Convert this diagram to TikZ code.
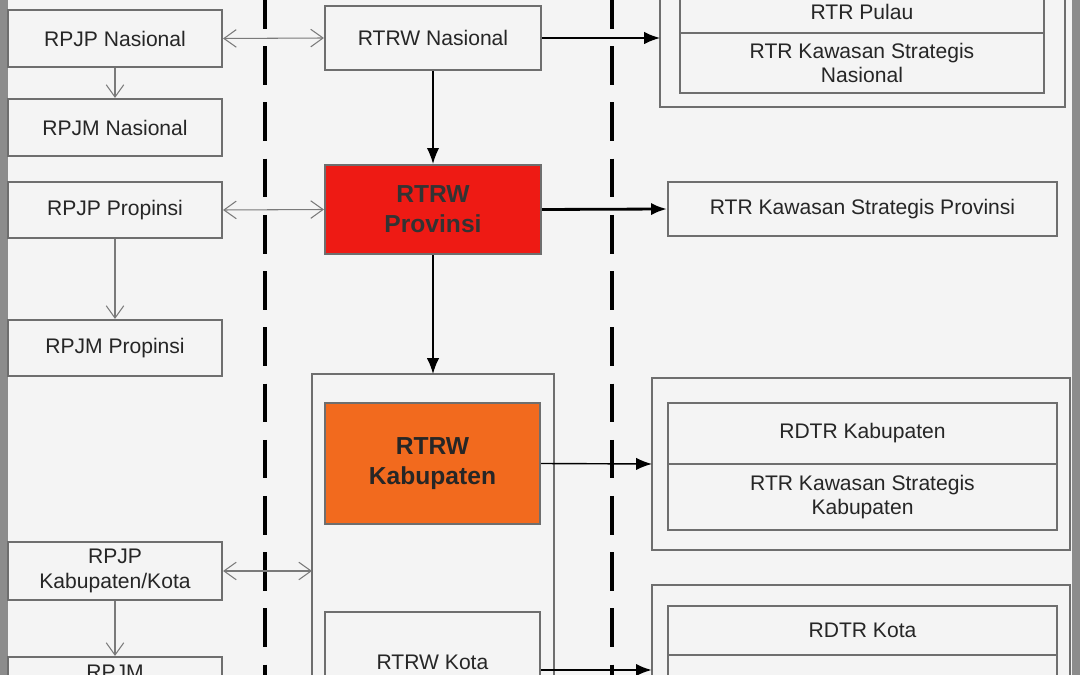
\documentclass[tikz,border=0pt]{standalone}
\usepackage{fontspec}
\setmainfont{Liberation Sans}
\usetikzlibrary{arrows.meta}
\definecolor{bgpage}{HTML}{F4F4F4}
\definecolor{frame}{HTML}{8C8C8C}
\definecolor{boxline}{HTML}{6E6E6E}
\definecolor{provred}{HTML}{EE1A14}
\definecolor{kaborange}{HTML}{F26A1E}
\definecolor{linkgray}{HTML}{7A7A7A}
\def\px{0.02cm}
\tikzset{
  box/.style={draw=boxline, line width=1.2pt, fill=bgpage, align=center, inner sep=0pt,
    font=\fontsize{12}{14}\selectfont, text=black!85},
  hot/.style={box, font=\fontsize{14}{17}\selectfont\bfseries, text=black!80},
  plan/.style={draw=boxline, line width=1.2pt},
  link/.style={linkgray, line width=0.6pt, {Straight Barb[length=7pt,width=10pt]}-{Straight Barb[length=7pt,width=10pt]}},
  down/.style={linkgray, line width=0.6pt, -{Straight Barb[length=7pt,width=10pt]}},
  flow/.style={black, line width=0.8pt, -{Latex[length=9pt,width=7pt]}},
  guide/.style={black, line width=2.2pt, dash pattern=on 22pt off 10pt}
}
\begin{document}
\begin{tikzpicture}[x=\px, y=-\px]
  \useasboundingbox (0,0) rectangle (1080,675);
  \clip (0,0) rectangle (1080,675);
  \fill[frame] (0,0) rectangle (1080,675);
  \fill[bgpage] (8,0) rectangle (1072,675);

  % Trennlinien
  \draw[guide] (265,-10) -- (265,690);
  \draw[guide] (612,-10) -- (612,690);

  % RPJP / RPJM
  \node[box, minimum width=214*\px, minimum height=57*\px] (pjpn) at (115,38.5) {RPJP Nasional};
  \node[box, minimum width=214*\px, minimum height=57*\px] (pjmn) at (115,127.5) {RPJM Nasional};
  \node[box, minimum width=214*\px, minimum height=56*\px] (pjpp) at (115,210) {RPJP Propinsi};
  \node[box, minimum width=214*\px, minimum height=56*\px] (pjmp) at (115,348) {RPJM Propinsi};
  \node[box, minimum width=214*\px, minimum height=58*\px] (pjpk) at (115,571) {RPJP\\Kabupaten/Kota};
  \node[box, minimum width=214*\px, minimum height=60*\px, text depth=30*\px] (pjmk) at (115,687) {RPJM};

  % RTRW
  \node[box, minimum width=216*\px, minimum height=64*\px] (rtrwn) at (433,38) {RTRW Nasional};
  \node[hot, fill=provred, minimum width=216*\px, minimum height=89*\px] (rtrwp) at (433,209.5) {RTRW\\Provinsi};
  \draw[plan] (312,374) coordinate (wrap) rectangle (554,700);
  \node[hot, fill=kaborange, text=black!85, minimum width=215*\px, minimum height=121*\px] (rtrwk) at (432.5,463.5) {RTRW\\Kabupaten};
  \node[box, minimum width=215*\px, minimum height=100*\px, text depth=-8*\px] (rtrwkt) at (432.5,662) {RTRW Kota};

  % Rencana rinci
  \draw[plan] (660,-10) rectangle (1065,107);
  \node[box, minimum width=364*\px, minimum height=43*\px] (pulau) at (862,11.5) {RTR Pulau};
  \node[box, minimum width=364*\px, minimum height=60*\px] (ksn) at (862,63) {RTR Kawasan Strategis\\Nasional};
  \node[box, minimum width=389*\px, minimum height=54*\px] (ksp) at (862.5,209) {RTR Kawasan Strategis Provinsi};
  \draw[plan] (652,378) rectangle (1070,550);
  \node[box, minimum width=389*\px, minimum height=61*\px] (rdtrk) at (862.5,433.5) {RDTR Kabupaten};
  \node[box, minimum width=389*\px, minimum height=66*\px] (ksk) at (862.5,497) {RTR Kawasan Strategis\\Kabupaten};
  \draw[plan] (652,585) rectangle (1070,700);
  \node[box, minimum width=389*\px, minimum height=49*\px] (rdtrkt) at (862.5,630.5) {RDTR Kota};
  \node[box, minimum width=389*\px, minimum height=50*\px] (kskt) at (862.5,680) {};

  \coordinate (natin) at (660,38);
  \coordinate (kabin) at (652,464);
  \coordinate (kotin) at (652,670);

  % Hubungan
  \draw[link] (pjpn.east) -- (rtrwn.west);
  \draw[link] (pjpp.east) -- (rtrwp.west);
  \draw[link] (pjpk.east) -- (pjpk.east -| wrap);
  \draw[down] (pjpn) -- (pjmn);
  \draw[down] (pjpp) -- (pjmp);
  \draw[down] (pjpk) -- (pjmk);
  \draw[flow] (rtrwn) -- (rtrwp);
  \draw[flow] (rtrwp) -- (rtrwp |- wrap);
  \draw[flow] (rtrwn.east) -- (natin);
  \draw[flow, line width=1.6pt] (rtrwp.east) -- (ksp.west);
  \draw[flow] (rtrwk.east) -- (kabin);
  \draw[flow, line width=1.4pt] (rtrwkt.east |- kotin) -- (kotin);
\end{tikzpicture}
\end{document}
